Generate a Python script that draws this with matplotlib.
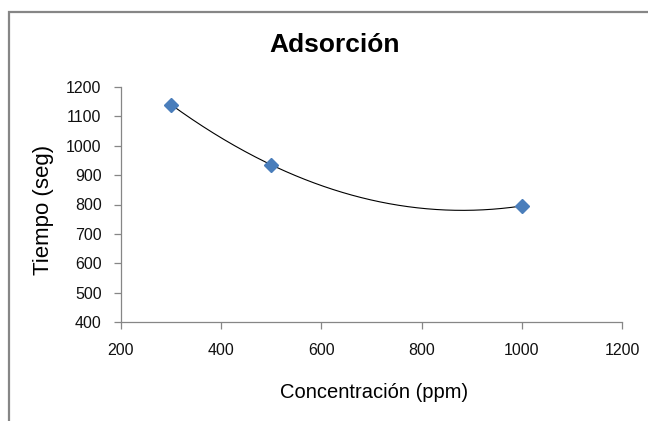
import numpy as np
import matplotlib
matplotlib.use("Agg")
import matplotlib.pyplot as plt
from matplotlib.patches import Rectangle

# Adsorption time vs. concentration
concentracion = [300, 500, 1000]          # ppm
tiempo = [1140, 935, 795]                 # s
x_ticks = [200, 400, 600, 800, 1000, 1200]
y_ticks = [400, 500, 600, 700, 800, 900, 1000, 1100, 1200]

plt.rcParams['font.family'] = ['Liberation Sans', 'DejaVu Sans']

W, H = 648, 421
fig = plt.figure(figsize=(W / 100, H / 100), dpi=100)
fig.patch.set_facecolor('white')

# chart-area frame
fig.patches.append(Rectangle((8.5 / W, -0.05), 1.2, 1 - 11.5 / H + 0.05,
                             transform=fig.transFigure, fill=False,
                             edgecolor='#868686', linewidth=1.6))

left, right, top, bottom = 121, 622, 87, 322
ax = fig.add_axes([left / W, 1 - bottom / H, (right - left) / W, (bottom - top) / H])

# second-order polynomial trendline
coef = np.polyfit(concentracion, tiempo, 2)
xs = np.linspace(min(concentracion), max(concentracion), 300)
ax.plot(xs, np.polyval(coef, xs), color='black', linewidth=0.8, zorder=2)

ax.plot(concentracion, tiempo, linestyle='none', marker='D', markersize=7,
        color='#4A7EBB', markeredgecolor='#4A7EBB', zorder=3)

ax.set_xlim(200, 1200)
ax.set_ylim(400, 1200)
ax.set_xticks(x_ticks)
ax.set_yticks(y_ticks)

for s in ['top', 'right']:
    ax.spines[s].set_visible(False)
for s in ['left', 'bottom']:
    ax.spines[s].set_color('#868686')
    ax.spines[s].set_linewidth(0.9)

ax.tick_params(axis='both', direction='out', length=5, width=0.9,
               color='#868686', labelsize=11.5, labelcolor='#111111')
ax.tick_params(axis='y', pad=9)
ax.tick_params(axis='x', pad=10)

fig.text(335 / W, 1 - 45 / H, 'Adsorción', ha='center', va='center',
         fontsize=19, fontweight='bold', color='black')
fig.text(374 / W, 1 - 392 / H, 'Concentración (ppm)', ha='center', va='center',
         fontsize=14.5, color='black')
fig.text(44 / W, 1 - 210 / H, 'Tiempo (seg)', ha='center', va='center',
         rotation=90, fontsize=16, color='black')

fig.savefig('out.png', dpi=100)
